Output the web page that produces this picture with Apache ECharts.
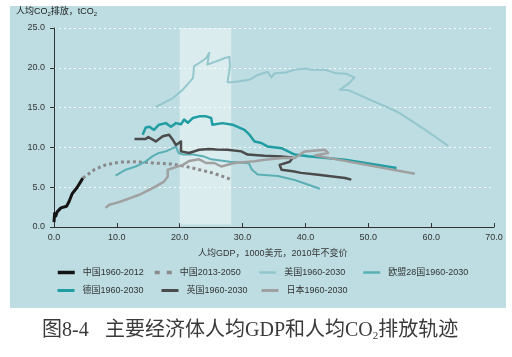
<!DOCTYPE html>
<html><head><meta charset="utf-8">
<script src="https://cdn.jsdelivr.net/npm/echarts@6/dist/echarts.min.js"></script>
<style>html,body{margin:0;padding:0;background:#fff}#c{width:512px;height:357px}</style>
</head><body><div id="c"></div>
<script>
// ---- data ----
const xTicks = ['0.0','10.0','20.0','30.0','40.0','50.0','60.0','70.0'];
const yTicks = ['0.0','5.0','10.0','15.0','20.0','25.0'];
const seriesNames = ['中国1960-2012','中国2013-2050','美国1960-2030','欧盟28国1960-2030','德国1960-2030','英国1960-2030','日本1960-2030'];
const bandRange = [[20, 0.3], [28.2, 25.5]];
const chinaHist = [[0,0.6],[0.1,1.7],[0.3,1.4],[0.5,1.9],[1.1,2.4],[2.0,2.6],[2.4,3.2],[2.9,4.2],[3.7,5.0],[4.25,5.7],[4.6,6.15]];
const chinaFuture = [[4.6,6.15],[5.05,6.4],[6.4,7.2],[8.2,7.8],[10.4,8.15],[13,8.2],[15.7,8.05],[18.9,7.9],[21,7.6],[23.1,7.2],[25.2,6.8],[27.6,6.15],[28,6.0]];
const usa = [[16.2,15.1],[18.9,16.2],[20.5,17.25],[22.1,18.7],[22.3,20.2],[23.1,20.6],[24.2,21.2],[24.7,21.9],[24.4,20.4],[24.7,20.3],[25.8,20.8],[27.1,21.2],[27.9,21.4],[28,20.2],[27.6,18.2],[28.3,18.2],[29.5,18.3],[31.1,18.5],[32.4,19.1],[34,19.5],[34.6,18.8],[35.1,19.3],[36.9,19.4],[38.5,19.8],[40.1,19.9],[41,19.75],[43.1,19.75],[44.9,19.3],[46.5,19.25],[47.8,18.8],[47,18.1],[45.5,17.25],[46.8,17.2],[49.7,16.2],[54,14.7],[55,14.3],[58.7,12.4],[62.7,10.2]];
const eu28 = [[9.8,6.45],[11.4,7.2],[13,7.6],[14.6,8.25],[15.7,8.9],[16.7,9.3],[17.8,9.5],[18.9,9.9],[19.4,10.1],[19.8,9.3],[20.5,9.1],[22.1,9.1],[23.7,8.9],[25,8.5],[28,8.2],[31,8.0],[31.5,7.2],[32.4,6.6],[35.6,6.4],[38.3,5.9],[42.3,4.8]];
const germany = [[14.1,11.6],[14.6,12.5],[15.2,12.6],[15.9,12.2],[16.7,12.85],[17.8,13.05],[18.6,12.6],[19.4,13.05],[20.2,12.9],[20.7,13.5],[21.3,13.1],[22.1,13.7],[23.1,13.9],[24.2,13.9],[25,13.7],[25.2,12.85],[26.8,13.05],[28.4,12.85],[30.3,12.2],[31.1,11.6],[31.9,10.75],[33,10.55],[34,10.1],[36.2,9.9],[38.3,9.1],[40.4,8.9],[46.3,8.45],[54.5,7.4]];
const uk = [[12.8,11.05],[14.6,11.05],[15.0,11.3],[16.2,10.75],[17.3,11.4],[18.3,11.6],[18.9,10.95],[19.4,10.3],[20.2,10.75],[20.2,9.5],[21.5,9.3],[23.1,9.7],[24.7,9.8],[25.8,9.75],[27.6,9.7],[29.8,9.5],[30.8,9.1],[33.5,8.95],[36.2,8.87],[38,8.7],[37.5,8.2],[35.9,7.8],[36.2,7.2],[38,7.0],[39.3,6.8],[41.7,6.6],[46.3,6.15],[47.3,5.95]];
const japan = [[8.2,2.4],[8.8,2.8],[9.8,3.0],[10.6,3.2],[12,3.6],[13.6,4.05],[15.2,4.7],[16.2,5.1],[17.5,5.7],[18.1,6.35],[18.1,7.2],[18.9,7.4],[20.5,7.8],[21.5,8.3],[23.1,8.5],[24.2,8.04],[25.5,8.04],[26.6,7.6],[28.7,8.04],[31.9,8.25],[33.5,8.45],[36.4,8.67],[38.3,8.67],[39.9,9.5],[43.1,9.7],[43.6,9.3],[41.5,9.0],[57.4,6.7]];

const seriesData = [chinaHist, chinaFuture, usa, eu28, germany, uk, japan];
const colors = ['#141414','#8a8a8a','#93c7cd','#5aafb5','#1f9da3','#4b4b4b','#a0a0a0'];
const widths = [3, 3, 2, 2, 2.5, 2.5, 2.5];
const types = ['solid', [3,3], 'solid','solid','solid','solid','solid'];
const legendTypes = ['solid', [5,7], 'solid','solid','solid','solid','solid'];

const font = '"Liberation Sans", Arial, "Noto Sans CJK SC", sans-serif';
const chart = echarts.init(document.getElementById('c'));

const legendPos = [[56,268],[153,268],[258,268],[362,268],[56,286],[160,286],[260,286]];
const legends = seriesNames.map((n,i)=>({
  left: legendPos[i][0], top: legendPos[i][1], padding: 0,
  itemWidth: 17, itemHeight: 10, selectedMode: false,
  data: [n],
  itemStyle: {opacity: 0},
  lineStyle: {width: widths[i] + 0.5, type: legendTypes[i], color: colors[i], cap: 'butt'},
  textStyle: {fontSize: 9, color: '#333', fontFamily: font, padding: [0,0,0,3]}
}));

const series = [{
  type: 'line', data: [], silent: true, clip: false,
  markArea: {silent: true, itemStyle: {color: 'rgba(255,255,255,0.45)'},
    data: [[{coord: bandRange[0]}, {coord: bandRange[1]}]]}
}].concat(seriesNames.map((n,i)=>({
  name: n, type: 'line', data: seriesData[i], showSymbol: false, symbol: 'none',
  smooth: false, silent: true,
  lineStyle: {color: colors[i], width: widths[i], type: types[i], cap: 'butt', join: 'round'},
  itemStyle: {color: colors[i]}
})));

chart.setOption({
  backgroundColor: '#ffffff',
  animation: false,
  textStyle: {fontFamily: font},
  graphic: [
    {type: 'rect', z: -10, shape: {x: 10, y: 6, width: 496, height: 302}, style: {fill: '#bddde2'}},
    {type: 'text', left: 16, top: 7, style: {
      text: '人均CO{s|2}排放，tCO{s|2}', fontSize: 9, fill: '#222', fontFamily: font,
      rich: {s: {fontSize: 6, padding: [5,0,0,0], fill: '#222'}}}},
    {type: 'text', left: 198, top: 249, style: {
      text: '人均GDP，1000美元，2010年不变价', fontSize: 9, fill: '#333', fontFamily: font}},
    {type: 'text', left: 42, top: 321, style: {
      text: '图8-4', fontSize: 20, fill: '#3a3a3a', fontFamily: '"Liberation Serif", "Noto Sans CJK SC", serif'}},
    {type: 'text', left: 105, top: 321, style: {
      text: '主要经济体人均GDP和人均CO{s|2}排放轨迹', fontSize: 20, fill: '#3a3a3a',
      fontFamily: '"Liberation Serif", "Noto Sans CJK SC", serif',
      rich: {s: {fontSize: 11, padding: [10,0,0,0], fill: '#3a3a3a', fontFamily: '"Liberation Serif", serif'}}}}
  ],
  legend: legends,
  grid: {left: 54, right: 18, top: 28, bottom: 130, containLabel: false},
  xAxis: {
    type: 'value', min: 0, max: 70, interval: 10,
    axisLine: {show: true, onZero: false, lineStyle: {color: '#333', width: 1}},
    axisTick: {show: true, inside: true, length: 4, lineStyle: {color: '#333'}},
    axisLabel: {fontSize: 9, color: '#333', margin: 6, fontFamily: font,
      formatter: (v)=> xTicks[Math.round(v/10)]},
    splitLine: {show: false}
  },
  yAxis: {
    type: 'value', min: 0, max: 25, interval: 5,
    axisLine: {show: true, lineStyle: {color: '#333', width: 1}},
    axisTick: {show: true, inside: false, length: 4, lineStyle: {color: '#333'}},
    axisLabel: {fontSize: 9, color: '#333', margin: 9, fontFamily: font,
      formatter: (v)=> yTicks[Math.round(v/5)]},
    splitLine: {show: true, lineStyle: {color: '#ffffff', width: 1, type: [2,3], opacity: 0.9}}
  },
  series: series
});
</script></body></html>
